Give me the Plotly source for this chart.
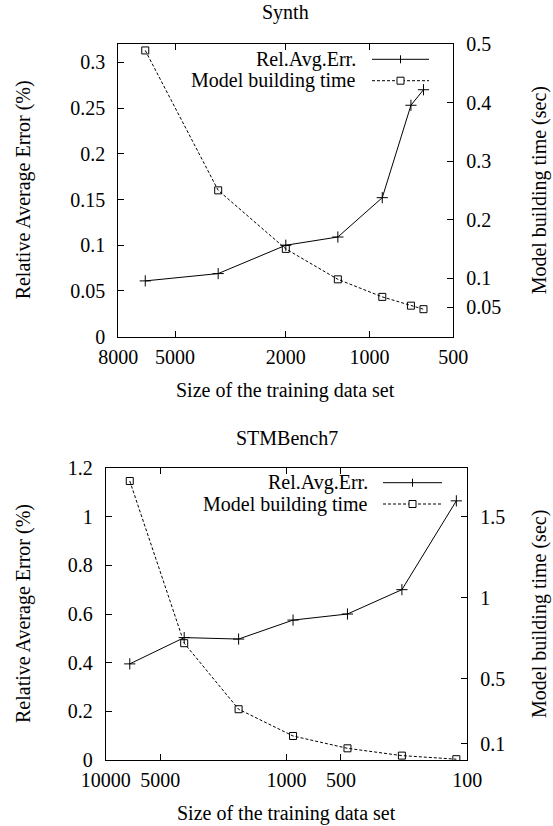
import math
import plotly.graph_objects as go

# ---------------- data ----------------
synth_sizes = [6400, 3500, 2000, 1300, 900, 710, 640]
synth_err = [0.061, 0.069, 0.100, 0.109, 0.152, 0.253, 0.270]
synth_time = [0.489, 0.250, 0.150, 0.098, 0.068, 0.053, 0.047]

stm_sizes = [7360, 3680, 1840, 920, 460, 230, 115]
stm_err = [0.395, 0.503, 0.497, 0.575, 0.600, 0.700, 1.065]
stm_time = [1.72, 0.72, 0.313, 0.148, 0.072, 0.027, 0.005]

synth_xticks = [8000, 5000, 2000, 1000, 500]
synth_yticks = [0, 0.05, 0.1, 0.15, 0.2, 0.25, 0.3]
synth_y2ticks = [0.05, 0.1, 0.2, 0.3, 0.4, 0.5]
stm_xticks = [10000, 5000, 1000, 500, 100]
stm_yticks = [0, 0.2, 0.4, 0.6, 0.8, 1.0, 1.2]
stm_y2ticks = [0.1, 0.5, 1.0, 1.5]

titles = ["Synth", "STMBench7"]
err_name = "Rel.Avg.Err."
time_name = "Model building time"
xlabel = "Size of the training data set"
ylabel = "Relative Average Error (%)"
y2label = "Model building time (sec)"

# ---------------- layout helpers ----------------
W, H = 553, 826
FONT = "Liberation Serif"
FS = 20


def px(x):
    return x / W


def py(y):
    return 1 - y / H


def fmt(v):
    return "%g" % v


top = dict(x0=118.3, x1=453.3, yt=44.0, yb=336.7)
bot = dict(x0=105.7, x1=467.3, yt=468.0, yb=760.0)

fig = go.Figure()

line_err = dict(color="black", width=1)
line_time = dict(color="black", width=1, dash="3px,2px")
mk_err = dict(symbol="cross-thin", size=8, color="black", line=dict(color="black", width=1))
mk_time = dict(symbol="square-open", size=7, color="black", line=dict(color="black", width=1))

fig.add_trace(go.Scatter(x=synth_sizes, y=synth_err, mode="lines+markers", line=line_err,
                         marker=mk_err, xaxis="x", yaxis="y", showlegend=False))
fig.add_trace(go.Scatter(x=synth_sizes, y=synth_time, mode="lines+markers", line=line_time,
                         marker=mk_time, xaxis="x", yaxis="y2", showlegend=False))
fig.add_trace(go.Scatter(x=stm_sizes, y=stm_err, mode="lines+markers", line=line_err,
                         marker=mk_err, xaxis="x2", yaxis="y3", showlegend=False))
fig.add_trace(go.Scatter(x=stm_sizes, y=stm_time, mode="lines+markers", line=line_time,
                         marker=mk_time, xaxis="x2", yaxis="y4", showlegend=False))

tickfont = dict(family=FONT, size=FS, color="black")
common = dict(showgrid=False, zeroline=False, showline=True, linecolor="black", linewidth=1,
              ticks="inside", ticklen=6, tickcolor="black", tickwidth=1, tickfont=tickfont,
              automargin=False)

fig.update_layout(
    template="none",
    width=W, height=H, margin=dict(l=0, r=0, t=0, b=0, autoexpand=False),
    paper_bgcolor="white", plot_bgcolor="white", showlegend=False,
    font=dict(family=FONT, size=FS, color="black"),
    xaxis=dict(type="log", range=[math.log10(8000), math.log10(500)],
               domain=[px(top["x0"]), px(top["x1"])], anchor="y",
               tickvals=synth_xticks, ticktext=[str(v) for v in synth_xticks],
               mirror="ticks", ticklabelstandoff=2, **common),
    yaxis=dict(range=[0, 0.32], domain=[py(top["yb"]), py(top["yt"])], anchor="x",
               tickvals=synth_yticks, ticktext=[fmt(v) for v in synth_yticks],
               ticklabelstandoff=8, **common),
    yaxis2=dict(range=[0, 0.5], overlaying="y", side="right", anchor="x",
                tickvals=synth_y2ticks, ticktext=[fmt(v) for v in synth_y2ticks],
                ticklabelstandoff=8, **common),
    xaxis2=dict(type="log", range=[4, 2],
                domain=[px(bot["x0"]), px(bot["x1"])], anchor="y3",
                tickvals=stm_xticks, ticktext=[str(v) for v in stm_xticks],
                mirror="ticks", ticklabelstandoff=2, **common),
    yaxis3=dict(range=[0, 1.2], domain=[py(bot["yb"]), py(bot["yt"])], anchor="x2",
                tickvals=stm_yticks, ticktext=[fmt(v) for v in stm_yticks],
                ticklabelstandoff=8, **common),
    yaxis4=dict(range=[0, 1.8], overlaying="y3", side="right", anchor="x2",
                tickvals=stm_y2ticks, ticktext=[fmt(v) for v in stm_y2ticks],
                ticklabelstandoff=8, **common),
)

annos = []
shapes = []
for panel, title, ty, xly, leg in [
    (top, titles[0], 12, 390, dict(tx=358, l0=372, l1=429, y1=59.3, y2=80.7)),
    (bot, titles[1], 438, 813, dict(tx=370, l0=383, l1=442, y1=482.7, y2=504.0)),
]:
    cx = (panel["x0"] + panel["x1"]) / 2
    cy = (panel["yt"] + panel["yb"]) / 2
    f = dict(family=FONT, size=FS, color="black")
    annos.append(dict(text=title, x=px(cx), y=py(ty), xref="paper", yref="paper",
                      showarrow=False, xanchor="center", yanchor="middle", font=f))
    annos.append(dict(text=xlabel, x=px(cx), y=py(xly), xref="paper", yref="paper",
                      showarrow=False, xanchor="center", yanchor="middle", font=f))
    annos.append(dict(text=ylabel, x=px(23), y=py(cy), xref="paper", yref="paper",
                      showarrow=False, xanchor="center", yanchor="middle", textangle=-90, font=f))
    annos.append(dict(text=y2label, x=px(539), y=py(cy), xref="paper", yref="paper",
                      showarrow=False, xanchor="center", yanchor="middle", textangle=-90, font=f))
    # legend (gnuplot style: text left of sample)
    for name, yy, dash, sym in [(err_name, leg["y1"], "solid", "plus"),
                                (time_name, leg["y2"], "3px,2px", "square")]:
        annos.append(dict(text=name, x=px(leg["tx"]), y=py(yy), xref="paper", yref="paper",
                          showarrow=False, xanchor="right", yanchor="middle", font=f))
        shapes.append(dict(type="line", xref="paper", yref="paper",
                           x0=px(leg["l0"]), x1=px(leg["l1"]), y0=py(yy), y1=py(yy),
                           line=dict(color="black", width=1, dash=dash)))
        mx = (leg["l0"] + leg["l1"]) / 2
        if sym == "plus":
            shapes.append(dict(type="line", xref="paper", yref="paper",
                               x0=px(mx), x1=px(mx), y0=py(yy - 4), y1=py(yy + 4),
                               line=dict(color="black", width=1)))
        else:
            shapes.append(dict(type="rect", xref="paper", yref="paper",
                               x0=px(mx - 3.5), x1=px(mx + 3.5), y0=py(yy - 3.5), y1=py(yy + 3.5),
                               fillcolor="white", line=dict(color="black", width=1)))

fig.update_layout(annotations=annos, shapes=shapes)
fig.write_html("out.html", config={"displayModeBar": False},
               post_script="document.body.style.margin='0px';document.body.style.overflow='hidden';")
